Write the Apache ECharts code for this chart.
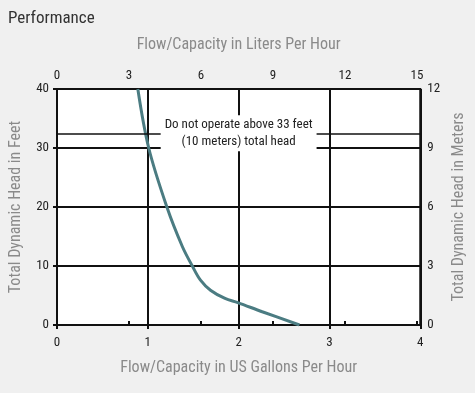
<!DOCTYPE html>
<html>
<head>
<meta charset="utf-8">
<script src="https://cdn.jsdelivr.net/npm/echarts@6/dist/echarts.min.js"></script>
<style>
html,body{margin:0;padding:0;background:#f0f0f0;}
#c{width:475px;height:393px;}
</style>
</head>
<body>
<div id="c"></div>
<script>
var FONT = "'Roboto Condensed','Roboto',sans-serif";
var title = "Performance";
var bottomName = "Flow/Capacity in US Gallons Per Hour";
var topName = "Flow/Capacity in Liters Per Hour";
var leftName = "Total Dynamic Head in Feet";
var rightName = "Total Dynamic Head in Meters";
var gallons = [0.89, 1.01, 1.21, 1.38, 1.49, 1.58, 1.69, 1.85, 1.99, 2.26, 2.67];
var feet    = [40,   30,   20,   13.3, 10,   7.6,  5.9,  4.5,  3.8,  2.25, 0];
var limitFeet = 32.5;
var limitText = "Do not operate above 33 feet\n(10 meters) total head";
var litersMax = 15.14;

var pts = gallons.map(function(g, i){ return [g, feet[i]]; });
var chart = echarts.init(document.getElementById('c'));
var lab = {color:'#222', fontSize:13, fontFamily:FONT};
var nameStyle = {color:'#8a8a8a', fontSize:16, fontFamily:FONT};
chart.setOption({
  backgroundColor:'#f0f0f0',
  animation:false,
  title:{text:title, left:3, top:5, textStyle:{color:'#333', fontSize:17, fontWeight:'normal', fontFamily:FONT}},
  grid:{left:55, right:52, top:89, bottom:68, show:true, backgroundColor:'#fff', borderColor:'#111', borderWidth:2},
  xAxis:[
    {type:'value', position:'bottom', min:0, max:4, interval:1,
     name:bottomName, nameLocation:'middle', nameGap:35, nameTextStyle:nameStyle,
     axisLine:{show:true, lineStyle:{color:'#111', width:2}},
     axisTick:{show:true, length:4, lineStyle:{color:'#111', width:2}},
     axisLabel:Object.assign({margin:11}, lab),
     splitLine:{show:true, lineStyle:{color:'#111', width:2}}},
    {type:'value', position:'top', min:0, max:litersMax, interval:3,
     name:topName, nameLocation:'middle', nameGap:36, nameTextStyle:nameStyle,
     axisLine:{show:true, lineStyle:{color:'#111', width:2}},
     axisTick:{show:true, length:4, lineStyle:{color:'#111', width:2}},
     axisLabel:Object.assign({margin:7, showMaxLabel:false}, lab),
     splitLine:{show:false}}
  ],
  yAxis:[
    {type:'value', position:'left', min:0, max:40, interval:10,
     name:leftName, nameLocation:'middle', nameGap:33, nameTextStyle:nameStyle,
     axisLine:{show:true, lineStyle:{color:'#111', width:2}},
     axisTick:{show:true, length:4, lineStyle:{color:'#111', width:2}},
     axisLabel:Object.assign({margin:8}, lab),
     splitLine:{show:true, lineStyle:{color:'#111', width:2}}},
    {type:'value', position:'right', min:0, max:12, interval:3,
     name:rightName, nameLocation:'middle', nameGap:29, nameTextStyle:nameStyle,
     axisLine:{show:true, lineStyle:{color:'#111', width:2}},
     axisTick:{show:true, length:4, lineStyle:{color:'#111', width:2}},
     axisLabel:Object.assign({margin:7}, lab),
     splitLine:{show:false}}
  ],
  series:[{
    type:'line', xAxisIndex:0, yAxisIndex:0, data:pts, smooth:0.35, symbol:'none',
    lineStyle:{color:'#4b7c82', width:3},
    markLine:{silent:true, symbol:'none', animation:false,
      lineStyle:{color:'#111', type:'solid', width:1.5},
      label:{show:true, position:'middle', formatter:limitText, color:'#222', fontSize:13, fontFamily:FONT,
             backgroundColor:'#fff', padding:[1,4], lineHeight:17, align:'center', offset:[0,23]},
      data:[{yAxis:limitFeet}]}
  }]
});
</script>
</body>
</html>
